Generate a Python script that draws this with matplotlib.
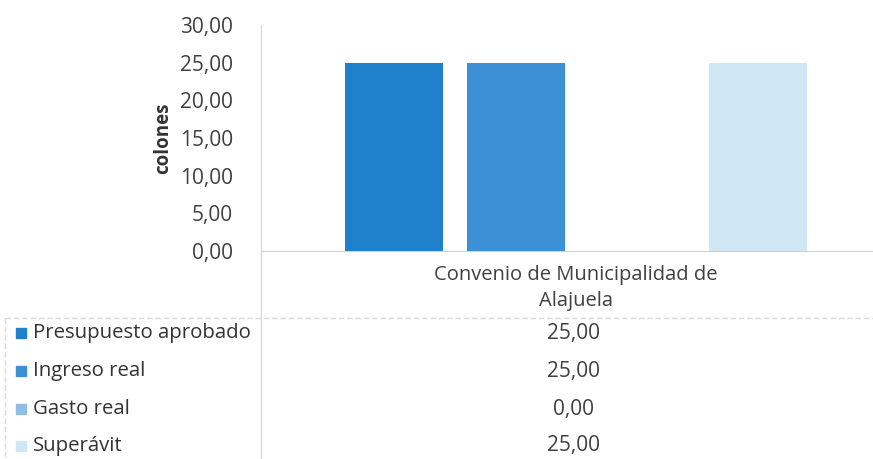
import matplotlib.pyplot as plt
from matplotlib.lines import Line2D
from matplotlib.patches import Rectangle

categories = ['Convenio de Municipalidad de\nAlajuela']
series_names = ['Presupuesto aprobado', 'Ingreso real', 'Gasto real', 'Superávit']
series_values = [[25.00], [25.00], [0.00], [25.00]]
colors = ['#1f80cc', '#3d90d6', '#8fbde6', '#cfe6f5']
yticks = [0, 5, 10, 15, 20, 25, 30]

plt.rcParams['font.family'] = ['Open Sans', 'DejaVu Sans']
W, H = 873, 459
fig = plt.figure(figsize=(W / 100, H / 100), dpi=100)

# axes box in pixel terms: x 261..873, y 25..251
ax = fig.add_axes([261 / W, 1 - 251 / H, (W - 261) / W, (251 - 25) / H])

step = 0.198
width = 0.16
for i, (name, vals) in enumerate(zip(series_names, series_values)):
    xs = [c + (i - 1.5) * step for c in range(len(categories))]
    ax.bar(xs, vals, width=width, color=colors[i], label=name)

ax.set_xlim(-0.515, 0.485)
ax.set_ylim(0, 30)
ax.set_yticks(yticks)
ax.set_yticklabels([f'{v:.2f}'.replace('.', ',') for v in yticks],
                   fontsize=15, color='#404040')
ax.tick_params(axis='y', length=0, pad=20)
ax.set_xticks([])
ax.set_ylabel('colones', fontsize=13.5, fontweight='bold', color='#333333', labelpad=5)
for s in ['top', 'right']:
    ax.spines[s].set_visible(False)
ax.spines['left'].set_color('#d9d9d9')
ax.spines['bottom'].set_color('#d0d0d0')

# category label under the axis
for c, cat in enumerate(categories):
    ax.text(c, -1.9, cat, ha='center', va='top', fontsize=14.5, color='#404040',
            linespacing=1.35, transform=ax.transData)

# data table lines
def px_line(x0, y0, x1, y1, **kw):
    fig.add_artist(Line2D([x0 / W, x1 / W], [1 - y0 / H, 1 - y1 / H],
                          transform=fig.transFigure, **kw))

line_kw = dict(color='#d9d9d9', lw=1, linestyle=(0, (4, 2)))
px_line(5, 318, W, 318, **line_kw)
px_line(5, 318, 5, H, **line_kw)
px_line(261, 251, 261, H, color='#d9d9d9', lw=1)

row_y = [333, 371, 409, 446]
for name, vals, col, yy in zip(series_names, series_values, colors, row_y):
    fig.add_artist(Rectangle((16 / W, 1 - (yy + 5) / H), 10 / W, 10 / H,
                             transform=fig.transFigure, color=col))
    fig.text(33 / W, 1 - yy / H, name, ha='left', va='center',
             fontsize=14.7, color='#333333')
    fig.text(573 / W, 1 - yy / H, f'{vals[0]:.2f}'.replace('.', ','),
             ha='center', va='center', fontsize=15, color='#404040')

fig.savefig('out.png', dpi=100)
